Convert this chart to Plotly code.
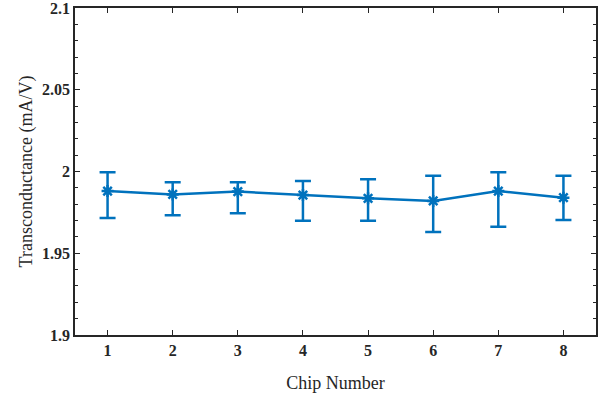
import plotly.graph_objects as go

chips = [1, 2, 3, 4, 5, 6, 7, 8]
gm_mean = [1.988, 1.986, 1.9877, 1.9856, 1.9836, 1.982, 1.988, 1.984]
gm_upper = [1.9995, 1.9934, 1.9934, 1.9942, 1.9952, 1.9974, 1.9995, 1.9974]
gm_lower = [1.9716, 1.9732, 1.9744, 1.9699, 1.9699, 1.963, 1.9662, 1.9703]

err_plus = [u - m for u, m in zip(gm_upper, gm_mean)]
err_minus = [m - l for m, l in zip(gm_mean, gm_lower)]

color = "#0072BD"
font_family = "Liberation Serif, DejaVu Serif, serif"
dark = "#262626"

fig = go.Figure()
fig.add_trace(go.Scatter(
    x=chips, y=gm_mean, mode="lines+markers",
    line=dict(color=color, width=2.5),
    marker=dict(symbol="asterisk-open", size=10, color=color,
                line=dict(color=color, width=2.5)),
    error_y=dict(type="data", symmetric=False, array=err_plus,
                 arrayminus=err_minus, color=color, thickness=2.5, width=8),
    showlegend=False,
))

axis_common = dict(
    showline=True, linecolor=dark, linewidth=1.5, mirror="ticks",
    ticks="inside", ticklen=5, tickcolor=dark,
    showgrid=False, zeroline=False, automargin=False,
    ticklabeloverflow="allow",
    tickfont=dict(family=font_family, size=16, color=dark, weight="bold"),
)

fig.update_xaxes(
    range=[0.5, 8.5], tickmode="array", tickvals=chips,
    ticktext=[str(c) for c in chips],
    title=dict(text="Chip Number", font=dict(family=font_family, size=18, color=dark), standoff=18),
    **axis_common,
)
fig.update_yaxes(
    range=[1.9, 2.1], tickmode="array",
    tickvals=[1.9, 1.95, 2.0, 2.05, 2.1],
    ticktext=["1.9", "1.95", "2", "2.05", "2.1"],
    minor=dict(dtick=0.01, ticks="inside", ticklen=3, tickcolor=dark),
    title=dict(text="Transconductance (mA/V)", font=dict(family=font_family, size=18, color=dark), standoff=5),
    **axis_common,
)

fig.update_layout(
    width=606, height=397,
    margin=dict(l=75, r=10, t=8, b=62, autoexpand=False),
    plot_bgcolor="white", paper_bgcolor="white",
)

fig.write_html("out.html", config={"displayModeBar": False},
               post_script="document.body.style.margin='0';document.body.style.overflow='hidden';")
